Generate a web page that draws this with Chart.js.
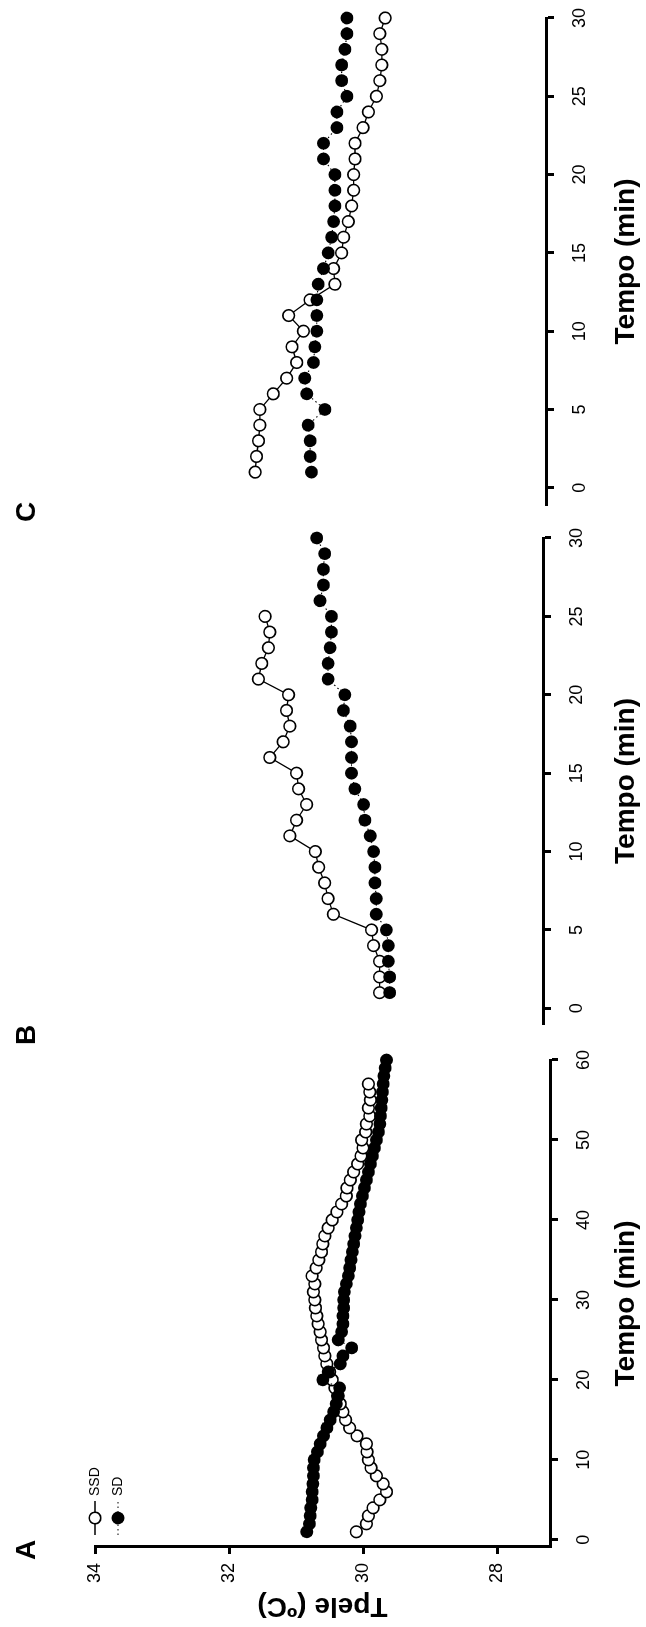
<!DOCTYPE html>
<html lang="pt-BR">
<head>
<meta charset="UTF-8">
<title>Tpele x Tempo</title>
<script src="https://cdn.jsdelivr.net/npm/chart.js"></script>
<style>
  html, body { margin:0; padding:0; background:#fff; overflow:hidden; }
  body { width:646px; height:1627px; position:relative; }
  /* a figura inteira é desenhada deitada e girada 90° no sentido anti-horário */
  #figura { position:absolute; left:0; top:0; width:1627px; height:646px;
            transform-origin:0 0; transform:translate(0,1627px) rotate(-90deg); }
  #figura canvas { position:absolute; top:0; }
</style>
</head>
<body>
<div id="figura">
  <canvas id="painelA" width="600" height="646" style="left:0"></canvas>
  <canvas id="painelB" width="540" height="646" style="left:580px"></canvas>
  <canvas id="painelC" width="527" height="646" style="left:1100px"></canvas>
</div>

<script>
// ---- dados ----
const tempoA = [1,2,3,4,5,6,7,8,9,10,11,12,13,14,15,16,17,18,19,20,
                21,22,23,24,25,26,27,28,29,30,31,32,33,34,35,36,37,38,39,40,
                41,42,43,44,45,46,47,48,49,50,51,52,53,54,55,56,57,58,59,60];
const tempoBC = [1,2,3,4,5,6,7,8,9,10,11,12,13,14,15,16,17,18,19,20,
                 21,22,23,24,25,26,27,28,29,30];

const ssdA = [30.10,29.95,29.92,29.85,29.75,29.65,29.70,29.80,29.88,29.92,
              29.94,29.95,30.09,30.20,30.26,30.30,30.34,30.38,30.42,30.46,
              30.50,30.54,30.57,30.59,30.62,30.64,30.67,30.69,30.71,30.72,
              30.74,30.72,30.76,30.70,30.66,30.62,30.60,30.57,30.52,30.46,
              30.39,30.32,30.25,30.24,30.19,30.14,30.08,30.03,30.00,30.02,
              29.96,29.95,29.90,29.92,29.89,29.90,29.92];
const sdA  = [30.84,30.80,30.79,30.78,30.76,30.76,30.75,30.74,30.74,30.73,
              30.68,30.64,30.59,30.54,30.49,30.44,30.40,30.37,30.35,30.60,
              30.52,30.34,30.30,30.17,30.37,30.32,30.30,30.30,30.29,30.29,
              30.28,30.25,30.22,30.20,30.18,30.16,30.14,30.12,30.10,30.08,
              30.06,30.04,30.01,29.98,29.95,29.92,29.89,29.86,29.83,29.80,
              29.77,29.75,29.74,29.73,29.72,29.71,29.70,29.69,29.67,29.65];

const ssdB = [29.75,29.75,29.75,29.84,29.87,30.44,30.52,30.57,30.66,30.71,
              31.09,30.99,30.84,30.96,30.99,31.39,31.19,31.09,31.14,31.11,
              31.56,31.51,31.41,31.39,31.46];
const sdB  = [29.60,29.60,29.62,29.62,29.65,29.80,29.80,29.82,29.82,29.84,
              29.89,29.97,29.99,30.12,30.17,30.17,30.17,30.19,30.29,30.27,
              30.52,30.52,30.49,30.47,30.47,30.64,30.59,30.59,30.57,30.69];

const ssdC = [31.61,31.59,31.56,31.54,31.54,31.34,31.14,30.99,31.06,30.89,
              31.11,30.79,30.42,30.44,30.32,30.29,30.22,30.17,30.14,30.14,
              30.12,30.12,30.00,29.92,29.80,29.75,29.72,29.72,29.75,29.67];
const sdC  = [30.77,30.79,30.79,30.82,30.57,30.84,30.87,30.74,30.72,30.69,
              30.69,30.69,30.67,30.59,30.52,30.47,30.44,30.42,30.42,30.42,
              30.59,30.59,30.39,30.39,30.24,30.32,30.32,30.27,30.24,30.24];

const ticksTempoA  = [0,10,20,30,40,50,60];
const ticksTempoBC = [0,5,10,15,20,25,30];
const ticksTpele   = [28,30,32,34];

// ---- estilo ----
const FONTE = '"Liberation Sans", Arial, sans-serif';
const PRETO = '#000';

const pontos = (t, v) => v.map((y, i) => ({x: t[i], y}));

// letra do painel e legenda desenhadas por cima do gráfico
const extras = {
  id: 'extras',
  afterDraw(chart, args, o) {
    const ctx = chart.ctx;
    ctx.save();
    ctx.fillStyle = PRETO;
    ctx.font = `bold 28px ${FONTE}`;
    ctx.textAlign = 'center';
    ctx.textBaseline = 'middle';
    ctx.fillText(o.letra, o.letraX, o.letraY);

    if (o.legenda) {
      const L = o.legenda;
      chart.data.datasets.forEach((ds, i) => {
        const y = L.y + i * L.passo;
        ctx.strokeStyle = ds.borderColor;
        ctx.lineWidth = ds.borderWidth;
        ctx.setLineDash(ds.borderDash || []);
        ctx.beginPath(); ctx.moveTo(L.x, y); ctx.lineTo(L.x + L.comp, y); ctx.stroke();
        ctx.setLineDash([]);
        ctx.beginPath();
        ctx.arc(L.x + L.comp / 2, y, ds.pointRadius, 0, Math.PI * 2);
        ctx.fillStyle = ds.pointBackgroundColor; ctx.fill();
        if (ds.pointBorderWidth) {
          ctx.lineWidth = ds.pointBorderWidth; ctx.strokeStyle = ds.pointBorderColor; ctx.stroke();
        }
        ctx.fillStyle = PRETO;
        ctx.font = `14px ${FONTE}`;
        ctx.textAlign = 'left';
        ctx.fillText(ds.label, L.x + L.comp + 5, y);
      });
    }
    ctx.restore();
  }
};

function painel(id, p) {
  const eixoY = !!p.eixoY;
  return new Chart(document.getElementById(id), {
    type: 'line',
    data: {
      datasets: [
        { label: 'SSD', data: pontos(p.tempo, p.ssd), order: 1, clip: false,
          borderColor: PRETO, borderWidth: 1.3,
          pointRadius: 5.8, pointBorderWidth: 1.6,
          pointBackgroundColor: '#fff', pointBorderColor: PRETO },
        { label: 'SD', data: pontos(p.tempo, p.sd), order: 0, clip: false,
          borderColor: PRETO, borderWidth: 1.1, borderDash: [1.5, 3],
          pointRadius: 6.4, pointBorderWidth: 0,
          pointBackgroundColor: PRETO, pointBorderColor: PRETO }
      ]
    },
    options: {
      responsive: false,
      animation: false,
      events: [],
      layout: { padding: p.padding },
      plugins: {
        legend: { display: false },
        tooltip: { enabled: false },
        extras: { letra: p.letra, letraX: p.letraX, letraY: 27, legenda: p.legenda }
      },
      scales: {
        x: {
          type: 'linear', min: p.xMin, max: p.xMax,
          afterBuildTicks: s => { s.ticks = p.ticksX.map(v => ({value: v})); },
          afterFit: s => { s.height = p.alturaX; s.paddingLeft = 0; s.paddingRight = 0; },
          border: { display: true, color: PRETO, width: 3 },
          grid: { drawOnChartArea: false, drawTicks: true, tickLength: 8, tickWidth: 3, tickColor: PRETO },
          ticks: { color: PRETO, padding: 15, maxRotation: 0, font: { family: FONTE, size: 18 } },
          title: { display: true, text: 'Tempo (min)', color: PRETO,
                   padding: { top: 0, bottom: 3 }, font: { family: FONTE, size: 28, weight: 'bold' } }
        },
        y: {
          display: eixoY, min: p.yMin, max: 34,
          afterBuildTicks: s => { s.ticks = ticksTpele.map(v => ({value: v})); },
          afterFit: s => { if (eixoY) { s.width = 80; s.paddingTop = 0; s.paddingBottom = 0; } },
          border: { display: true, color: PRETO, width: 3 },
          grid: { drawOnChartArea: false, drawTicks: true, tickLength: 7, tickWidth: 3, tickColor: PRETO },
          ticks: { color: PRETO, padding: 9, font: { family: FONTE, size: 18 } },
          title: { display: true, text: 'Tpele (ºC)', color: PRETO,
                   padding: { top: 4, bottom: 0 }, font: { family: FONTE, size: 28, weight: 'bold' } }
        }
      }
    },
    plugins: [extras]
  });
}

painel('painelA', {
  letra: 'A', letraX: 77, eixoY: true,
  tempo: tempoA, ssd: ssdA, sd: sdA, ticksX: ticksTempoA,
  xMin: -0.9, xMax: 60, yMin: 27.21, alturaX: 96,
  padding: { top: 95, right: 33, bottom: 0, left: 0 },
  legenda: { x: 92, y: 95, passo: 23, comp: 34 }
});

painel('painelB', {
  letra: 'B', letraX: 12,
  tempo: tempoBC, ssd: ssdB, sd: sdB, ticksX: ticksTempoBC,
  xMin: -1, xMax: 30, yMin: 27.31, alturaX: 103,
  padding: { top: 95, right: 31, bottom: 0, left: 23 }
});

painel('painelC', {
  letra: 'C', letraX: 15,
  tempo: tempoBC, ssd: ssdC, sd: sdC, ticksX: ticksTempoBC,
  xMin: -1.1, xMax: 30, yMin: 27.27, alturaX: 100,
  padding: { top: 95, right: 18, bottom: 0, left: 22 }
});
</script>
</body>
</html>
